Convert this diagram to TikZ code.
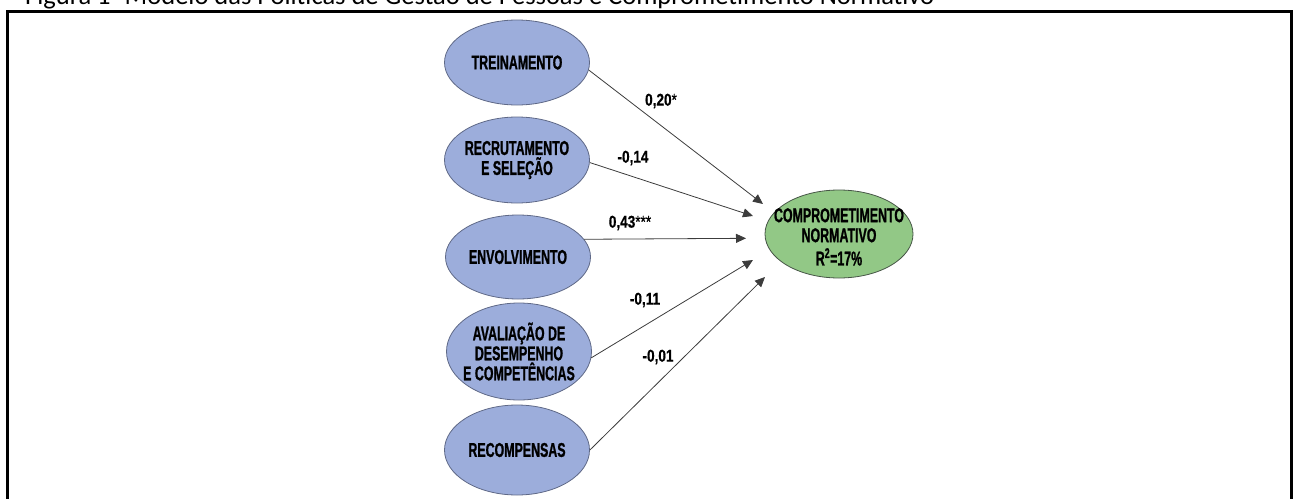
\documentclass[tikz,border=0pt]{standalone}
\usepackage{fontspec}
\setmainfont{Carlito}
\newfontfamily\capsfont[FakeStretch=0.62,FakeBold=1]{Liberation Sans}
\newfontfamily\numfont[FakeStretch=0.8,FakeBold=0.6]{Liberation Sans}
\usetikzlibrary{
  arrows.meta,
  shapes.geometric,
  positioning
}
\definecolor{factorfill}{RGB}{156,173,219}
\definecolor{factordraw}{RGB}{95,105,135}
\definecolor{outcomefill}{RGB}{146,200,134}
\definecolor{outcomedraw}{RGB}{70,85,70}
\definecolor{edgegray}{RGB}{60,60,60}

\begin{document}
\begin{tikzpicture}[x=1pt,y=-1pt,
      factor/.style={
         ellipse,
         minimum width=145pt,
         minimum height=86pt,
         inner xsep=-30pt,
         inner ysep=0pt,
         line width=0.8pt,
         draw=factordraw,
         fill=factorfill,
         align=center,
         font={\capsfont\bfseries\fontsize{20}{20}\selectfont}
      },
      outcome/.style={
         factor,
         minimum width=148pt,
         minimum height=88pt,
         draw=outcomedraw,
         fill=outcomefill
      },
      coef/.style={
         inner sep=0pt,
         font={\numfont\bfseries\fontsize{17}{20}\selectfont}
      },
      caption/.style={
         inner sep=0pt,
         font={\fontsize{26.5}{30}\selectfont}
      },
      >={Triangle[length=10pt,width=9pt]},
      link/.style={->,line width=0.8pt,draw=edgegray},
      tip/.style={coordinate}
    ]
    \useasboundingbox (0,0) rectangle (1293,498);
    \clip (0,0) rectangle (1293,498);
    \node (cap) [caption, anchor=base west] at (25,4.5)
       {Figura 1- Modelo das Políticas de Gestão de Pessoas e Comprometimento Normativo};
    \draw[line width=3pt] (7.5,520) |- (1291,11) -- (1291,520);

    % factors
    \node (tre)  [factor, minimum height=85pt] at (517,62.5) {TREINAMENTO};
    \node (rec)  [factor] at (517,160) {RECRUTAMENTO\\E SELEÇÃO};
    \node (env)  [factor, minimum height=84pt] at (518,257) {ENVOLVIMENTO};
    \node (ava)  [factor, minimum height=97pt] at (519,351.5) {AVALIAÇÃO DE\\DESEMPENHO\\E COMPETÊNCIAS};
    \node (rcp)  [factor, minimum height=90pt] at (517,450) {RECOMPENSAS};

    % outcome
    \node (com)  [outcome] at (839,234)
       {\raisebox{-11pt}[0pt][0pt]{\begin{tabular}{@{}c@{}}COMPROMETIMENTO\\NORMATIVO\\R\textsuperscript{2}=17\%\end{tabular}}};

    % arrow ends
    \node (t1) [tip] at (763,204) {};
    \node (t2) [tip] at (753,216) {};
    \node (t3) [tip] at (746,238.3) {};
    \node (t4) [tip] at (753,260) {};
    \node (t5) [tip] at (765,277) {};

    \draw[link] (tre.-6) -- (t1);
    \draw[link] (rec.-2) -- (t2);
    \draw[link] (env.15) -- (t3);
    \draw[link] (ava.-5) -- (t4);
    \draw[link] (rcp.0)  -- (t5);

    % coefficients
    \node (c1) [coef] at (661,101) {0,20{\mdseries*}};
    \node (c2) [coef] at (633,158) {-0,14};
    \node (c3) [coef] at (630,223) {0,43{\mdseries***}};
    \node (c4) [coef] at (645,300) {-0,11};
    \node (c5) [coef] at (658,357) {-0,01};
\end{tikzpicture}
\end{document}
